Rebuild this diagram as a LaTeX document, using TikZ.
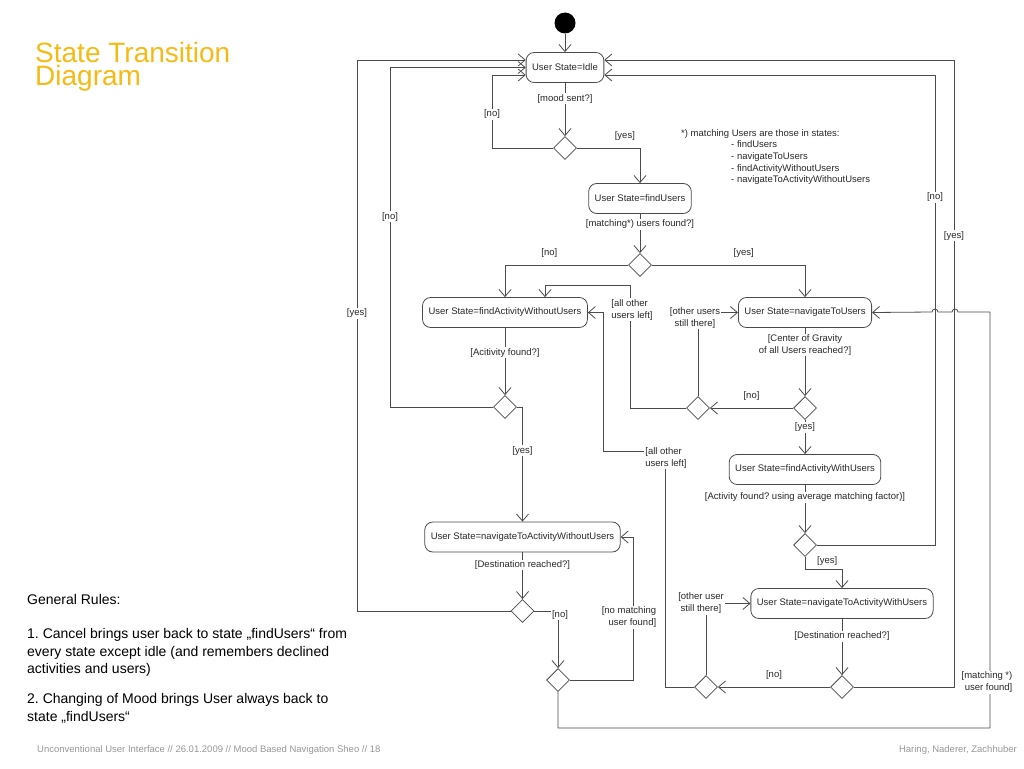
\documentclass[tikz,border=0pt]{standalone}
\usepackage{fontspec}
\setmainfont{Liberation Sans}
\usetikzlibrary{arrows.meta,positioning,shapes.geometric}
\definecolor{titleyellow}{RGB}{246,186,20}
\definecolor{linegray}{RGB}{75,75,75}
\definecolor{textgray}{RGB}{40,40,40}
\definecolor{footgray}{RGB}{150,150,150}
\frenchspacing
\tikzset{
  state/.style={rectangle,rounded corners=8pt,draw=linegray,line width=0.8pt,
    minimum height=30pt,inner xsep=6pt,text=textgray,font=\fontsize{9.5}{12}\selectfont},
  choice/.style={diamond,draw=linegray,line width=0.8pt,minimum width=23pt,
    minimum height=23pt,inner sep=0pt},
  guard/.style={fill=white,inner sep=1pt,align=center,text=textgray,
    font=\fontsize{9.5}{12}\selectfont},
  flow/.style={draw=linegray,line width=0.8pt},
}

\begin{document}
\begin{tikzpicture}[x=1pt,y=-1pt,>={Straight Barb[length=7pt,width=12pt]}]
\useasboundingbox (0,0) rectangle (1024,768);
% slide texts
\node (title) [anchor=north west,inner sep=0pt,align=left,text=titleyellow,
  font=\fontsize{28}{23}\selectfont] at (35,42) {State Transition\\Diagram};
\node (rules) [anchor=north west,inner sep=0pt,align=left,text=black,
  font=\fontsize{14}{17.5}\selectfont] at (27,594)
  {General Rules:\\[17pt]
   1. Cancel brings user back to state „findUsers“ from\\
   every state except idle (and remembers declined\\
   activities and users)\\[12.5pt]
   2. Changing of Mood brings User always back to\\
   state „findUsers“};
\node (footl) [anchor=base west,inner sep=0pt,text=footgray,
  font=\fontsize{9.5}{11}\selectfont] at (37,752)
  {Unconventional User Interface // 26.01.2009 // Mood Based Navigation Sheo // 18};
\node (footr) [anchor=base east,inner sep=0pt,text=footgray,
  font=\fontsize{9.5}{11}\selectfont] at (1017,752) {Haring, Naderer, Zachhuber};
\node (note) [anchor=north west,inner sep=0pt,align=left,text=textgray,
  font=\fontsize{9.5}{11.7}\selectfont] at (681,129)
  {*) matching Users are those in states:\\
   \hspace*{50pt}- findUsers\\
   \hspace*{50pt}- navigateToUsers\\
   \hspace*{50pt}- findActivityWithoutUsers\\
   \hspace*{50pt}- navigateToActivityWithoutUsers};
% states
\node (start) [circle,fill=black,minimum size=21pt,inner sep=0pt] at (565,23) {};
\node (idle) [state] at (565,67.5) {User State=Idle};
\node (fu) [state] at (640,198.5) {User State=findUsers};
\node (fawo) [state] at (505,312.5) {User State=findActivityWithoutUsers};
\node (ntu) [state] at (805,312.5) {User State=navigateToUsers};
\node (fawu) [state] at (805,469.5) {User State=findActivityWithUsers};
\node (nawo) [state] at (522.5,537) {User State=navigateToActivityWithoutUsers};
\node (nawu) [state] at (842,603.5) {User State=navigateToActivityWithUsers};
% decisions
\node (moodq) [choice] at (565,148) {};
\node (usersq) [choice] at (640,265) {};
\node (actq) [choice] at (505,407) {};
\node (destq) [choice] at (522.5,611) {};
\node (matchq) [choice] at (558,680) {};
\node (cogq) [choice] at (805,408) {};
\node (leftq) [choice] at (698,408) {};
\node (leftwq) [choice] at (706,687) {};
\node (actwq) [choice] at (805,545) {};
\node (destwq) [choice] at (842,687) {};
% transitions
\draw[flow,->] (start) -- (idle);
\draw[flow,->] (idle) -- node[guard,pos=0.3] {[mood sent?]} (moodq);
\draw[flow,->] (moodq.west) -| node[guard,pos=0.73] {[no]} (492,75) -- ([yshift=-7.5pt]idle.west);
\draw[flow,->] (moodq.east) -| node[guard,above=6pt,pos=0.38] {[yes]} (fu.north);
\draw[flow,->] (fu) -- node[guard,pos=0.26] {[matching*) users found?]} (usersq);
\draw[flow,->] (usersq.west) -| node[guard,above=6pt,pos=0.32] {[no]} (fawo.north);
\draw[flow,->] (usersq.east) -| node[guard,above=6pt,pos=0.3] {[yes]} (ntu.north);
%
\draw[flow,->] (fawo) -- node[guard,pos=0.37] {[Acitivity found?]} (actq);
\draw[flow,->] (actq.west) -| node[guard,pos=0.78] {[no]} (390,67.5) -- (idle.west);
\draw[flow,->] (actq.east) -| node[guard,pos=0.69] {[yes]} (nawo.north);
\draw[flow,->] (nawo) -- node[guard,pos=0.27] {[Destination reached?]} (destq);
\draw[flow,->] (destq.west) -| node[guard,pos=0.77] {[yes]} (357,60) -- ([yshift=7.5pt]idle.west);
\draw[flow,->] (destq.east) -| node[guard,pos=0.5,xshift=2pt,yshift=-4pt] {[no]} (matchq.north);
\draw[flow,->] (matchq.east) -| node[guard,pos=0.72,xshift=-4pt,align=right] {[no matching\\user found]} (633,537) -- (nawo.east);
\draw[flow,->] (matchq.south) |- (990,728)
  -- node[guard,pos=0.11,xshift=-3pt,align=right] {[matching *)\\user found]} (990,312)
  -- (958,312) arc[start angle=0,end angle=180,radius=3pt]
  -- (938,312) arc[start angle=0,end angle=180,radius=3pt]
  -- (ntu.east);
%
\draw[flow,->] (ntu) -- node[guard,pos=0.25] {[Center of Gravity\\of all Users reached?]} (cogq);
\draw[flow,->] (cogq) -- node[guard,above=6pt] {[no]} (leftq);
\draw[flow,->] (leftq.north) |- node[guard,pos=0.5,xshift=-3pt,yshift=-5.5pt] {[other users\\still there]} (ntu.west);
\draw[flow,->] (leftq.west) -| node[guard,pos=0.9,xshift=2pt,align=left] {[all other\\users left]} (630,285) -| ([xshift=40pt]fawo.north);
\draw[flow,->] (cogq) -- node[guard,pos=0.21] {[yes]} (fawu);
\draw[flow,->] (fawu) -- node[guard,pos=0.26] {[Activity found? using average matching factor)]} (actwq);
\draw[flow,->] (actwq.east) -| node[guard,pos=0.87] {[no]} (935,75) -- ([yshift=-7.5pt]idle.east);
\draw[flow,->] (actwq.south) -- (805,569) -| node[guard,above=2pt,pos=0.3] {[yes]} (nawu.north);
\draw[flow,->] (leftwq.north) |- node[guard,pos=0.5,xshift=-5pt] {[other user\\still there]} (nawu.west);
\draw[flow,->] (nawu) -- node[guard,pos=0.31] {[Destination reached?]} (destwq);
\draw[flow,->] (destwq) -- node[guard,above=6pt] {[no]} (leftwq);
\draw[flow,->] (destwq.east) -| node[guard,pos=0.86] {[yes]} (954,60) -- ([yshift=7.5pt]idle.east);
\draw[flow,->] (leftwq.west) -| (665,451) node[guard,xshift=1pt,yshift=-7pt,align=left] {[all other\\users left]} -- (603,451) |- (fawo.east);
\end{tikzpicture}
\end{document}
